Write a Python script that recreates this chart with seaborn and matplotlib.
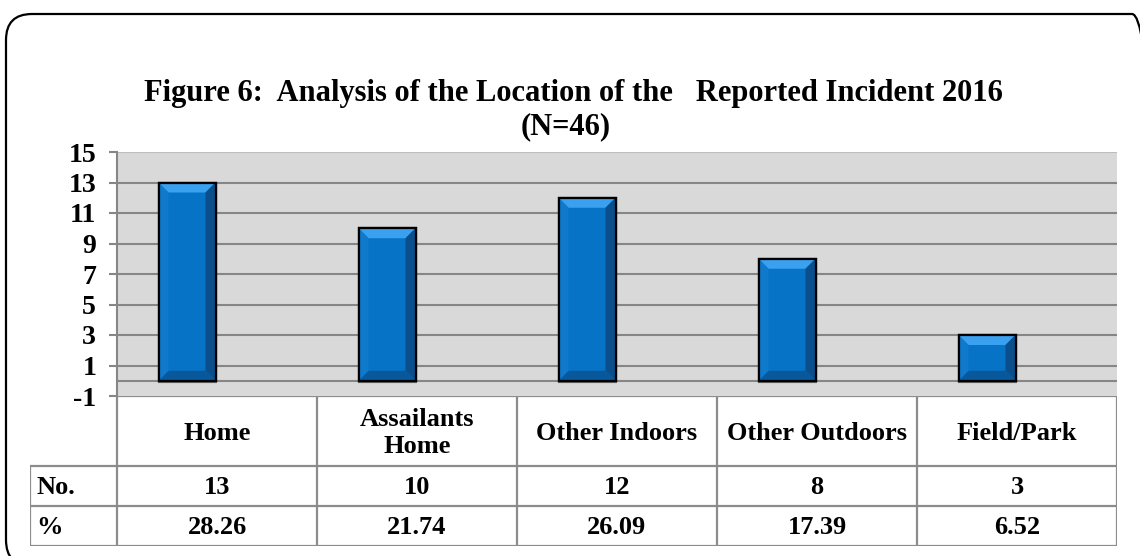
import numpy as np
import pandas as pd
import matplotlib
matplotlib.use("Agg")
import matplotlib.pyplot as plt
import seaborn as sns
from matplotlib.patches import Polygon, FancyBboxPatch

# data
locations = ["Home", "Assailants\nHome", "Other Indoors", "Other Outdoors", "Field/Park"]
counts = [13, 10, 12, 8, 3]
percents = [28.26, 21.74, 26.09, 17.39, 6.52]
row_labels = ["No.", "%"]
y_ticks = [-1, 1, 3, 5, 7, 9, 11, 13, 15]
title = "Figure 6:  Analysis of the Location of the   Reported Incident 2016\n(N=46)"

sns.set_style("white")
plt.rcParams["font.family"] = ["Liberation Serif", "DejaVu Serif"]
plt.rcParams["font.weight"] = "bold"
plt.rcParams["text.color"] = "black"
plt.rcParams["ytick.labelcolor"] = "black"

W, H = 1140, 556
fig = plt.figure(figsize=(W / 100, H / 100), dpi=100)

# rounded outer frame (runs off right/bottom edges like the source)
fx0, fy0, fx1, fy1 = 6, 14, 1158, 566
frame = FancyBboxPatch((fx0, H - fy1), fx1 - fx0, fy1 - fy0,
                       boxstyle="round,pad=0,rounding_size=26",
                       transform=None, fill=False, ec="black", lw=1.6)
fig.patches.append(frame)

t1, t2 = title.split("\n")
fig.text(573 / W, 1 - 93 / H, t1, ha="center", va="center",
         fontsize=22, fontweight="bold")
fig.text(566 / W, 1 - 127 / H, t2, ha="center", va="center",
         fontsize=22, fontweight="bold")

# main chart area
px_l, px_r, px_t, px_b = 117, 1117, 152, 396
ax = fig.add_axes([px_l / W, 1 - px_b / H, (px_r - px_l) / W, (px_b - px_t) / H])
ax.set_facecolor("#D9D9D9")

df = pd.DataFrame({"loc": locations, "n": counts})
sns.barplot(data=df, x="loc", y="n", color="#0673C6", width=0.285,
            edgecolor="black", linewidth=1.6, saturation=1, ax=ax, zorder=3)

ax.set_xlim(-0.5, len(locations) - 0.5)
ax.set_ylim(-1, 15)
ax.set_yticks(y_ticks)
ax.set_yticklabels([str(t) for t in y_ticks], fontsize=20, fontweight="bold")
ax.set_xticks([])
ax.set_xlabel("")
ax.set_ylabel("")
for t in y_ticks[1:-1]:
    ax.axhline(t, color="#868686", lw=1.5, zorder=1)
ax.axhline(15, color="#BDBDBD", lw=1.5, zorder=1)
ax.axhline(0, color="#868686", lw=1.5, zorder=1)
for s in ["top", "right", "bottom"]:
    ax.spines[s].set_visible(False)
ax.spines["left"].set_color("#868686")
ax.spines["left"].set_linewidth(1.5)
ax.tick_params(axis="y", left=True, length=6, width=1.5, color="#868686", pad=9)

# shift bars left of the category centre and add a bevel
dx = 0.05
dy = 10 / ((px_b - px_t) / 16)
for p in ax.patches:
    p.set_x(p.get_x() - 0.15)
    x0, w, h = p.get_x(), p.get_width(), p.get_height()
    x1 = x0 + w
    ax.hlines(0, x0 - 0.005, x1 + 0.005, color="#6E6E6E", lw=3, zorder=2)
    faces = [
        ([(x0, h), (x1, h), (x1 - dx, h - dy), (x0 + dx, h - dy)], "#3AA0F0"),
        ([(x1, h), (x1, 0), (x1 - dx, dy), (x1 - dx, h - dy)], "#0A4E8C"),
        ([(x0, 0), (x1, 0), (x1 - dx, dy), (x0 + dx, dy)], "#09589C"),
        ([(x0, h), (x0, 0), (x0 + dx, dy), (x0 + dx, h - dy)], "#0F7ACC"),
    ]
    for pts, c in faces:
        ax.add_patch(Polygon(pts, closed=True, fc=c, ec="none", zorder=3.5))
    ax.add_patch(plt.Rectangle((x0, 0), w, h, fill=False, ec="black",
                               lw=1.6, zorder=4))

# data table below the chart
tb_l, tb_b = 30, 546
cat_w = (px_r - px_l) / len(locations)
ta = fig.add_axes([tb_l / W, 1 - tb_b / H, (px_r - tb_l) / W, (tb_b - px_b) / H])
ta.set_xlim(-0.5 - (px_l - tb_l) / cat_w, len(locations) - 0.5)
ta.set_ylim(150, 0)
ta.axis("off")
lc, lw = "#8C8C8C", 1.6
rows = [0, 70, 110, 150]
left = -0.5 - (px_l - tb_l) / cat_w
ta.hlines([0], -0.5, len(locations) - 0.5, color=lc, lw=lw)
ta.hlines(rows[1:], left, len(locations) - 0.5, color=lc, lw=lw)
for i in range(len(locations) + 1):
    ta.vlines(i - 0.5, 0, 150, color=lc, lw=lw)
ta.vlines(left, 70, 150, color=lc, lw=lw)

for i, name in enumerate(locations):
    ta.text(i, 37, name, ha="center", va="center", fontsize=19,
            fontweight="bold", linespacing=1.25)
    ta.text(i, 91, str(counts[i]), ha="center", va="center", fontsize=19,
            fontweight="bold")
    ta.text(i, 131, f"{percents[i]:.2f}", ha="center", va="center", fontsize=19,
            fontweight="bold")
for r, lab in zip([91, 131], row_labels):
    ta.text(left + 0.03, r, lab, ha="left", va="center", fontsize=19,
            fontweight="bold")

fig.savefig("out.png", dpi=100)
